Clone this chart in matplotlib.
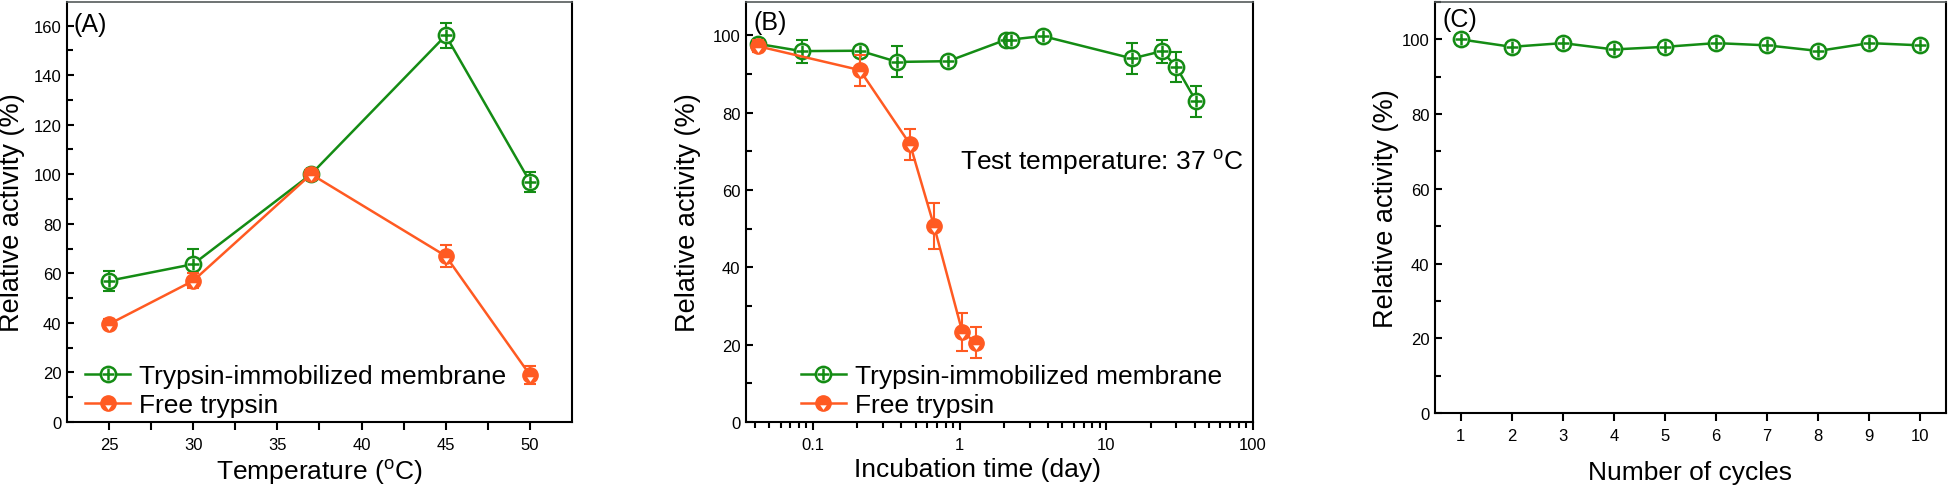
import matplotlib
matplotlib.use("Agg")
import matplotlib.pyplot as plt
from matplotlib.lines import Line2D
from matplotlib.path import Path
from matplotlib.ticker import MultipleLocator, FixedLocator, LogLocator, FuncFormatter, NullFormatter
import numpy as np

# ---------------- data ----------------
temp_c = [25, 30, 37, 45, 50]
a_membrane = [57, 63.7, 100, 156, 97]
a_membrane_err = [4, 6, 1, 5, 4]
a_free = [39.5, 57, 100, 67, 19]
a_free_err = [2, 3, 2, 4.5, 3.5]

b_membrane_days = [0.0417, 0.0833, 0.208, 0.375, 0.833, 2.08, 2.25, 3.67, 15, 24, 30, 41]
b_membrane = [97.8, 95.9, 96, 93.1, 93.3, 98.9, 98.9, 99.8, 94, 95.9, 91.8, 82.9]
b_membrane_err = [1, 3, 1, 4, 1, 1, 1, 1, 4, 3, 4, 4]
b_free_days = [0.0417, 0.208, 0.458, 0.667, 1.04, 1.29]
b_free = [97.2, 91, 71.8, 50.7, 23.3, 20.5]
b_free_err = [1.5, 4, 4, 6, 5, 4]

cycles = [1, 2, 3, 4, 5, 6, 7, 8, 9, 10]
c_membrane = [100, 98, 99, 97.3, 98, 99, 98.4, 96.9, 99, 98.4]

label_membrane = "Trypsin-immobilized membrane"
label_free = "Free trypsin"

# ---------------- style ----------------
GREEN = "#148c14"
ORANGE = "#ff5a22"
plt.rcParams["font.family"] = ["Liberation Sans", "DejaVu Sans"]
plt.rcParams["mathtext.fontset"] = "custom"
plt.rcParams["mathtext.rm"] = "Liberation Sans"

LW = 1.8
MS = 11
TRI = Path([(-2.3, -1.3), (2.3, -1.3), (0, -4.6), (-2.3, -1.3)],
           [Path.MOVETO, Path.LINETO, Path.LINETO, Path.CLOSEPOLY])
TICK_FS = 12
XLAB_FS = 19
YLAB_FS = 19.5
LEG_FS = 19
PANEL_FS = 18

fig = plt.figure(figsize=(19.49, 4.89), dpi=100)
axA = fig.add_axes([67/1949, 66/489, 505/1949, 420/489])
axB = fig.add_axes([746/1949, 66/489, 507/1949, 420/489])
axC = fig.add_axes([1435/1949, 75/489, 511/1949, 411/489])


def style_axes(ax):
    for s in ["left", "bottom", "right"]:
        ax.spines[s].set_linewidth(1.5)
        ax.spines[s].set_color("black")
    ax.spines["top"].set_linewidth(1.2)
    ax.spines["top"].set_color("#555b5b")
    ax.tick_params(axis="y", which="both", direction="in", width=1.5, labelsize=TICK_FS, pad=4)
    ax.tick_params(axis="y", which="major", length=5)
    ax.tick_params(axis="y", which="minor", length=4)
    ax.tick_params(axis="x", which="both", direction="out", width=1.5, labelsize=TICK_FS, pad=5)
    ax.tick_params(axis="x", which="major", length=6)
    ax.tick_params(axis="x", which="minor", length=6)
    ax.tick_params(which="both", right=False, top=False)


def plot_membrane(ax, x, y, err=None):
    if err is not None:
        ax.errorbar(x, y, yerr=err, fmt="none", ecolor=GREEN, elinewidth=1.5,
                    capsize=4, capthick=1.5, zorder=2)
    ax.plot(x, y, "-", color=GREEN, lw=LW, marker="o", ms=MS, mfc="white",
            mec=GREEN, mew=1.8, zorder=3)
    ax.plot(x, y, linestyle="none", marker="+", ms=9, mec=GREEN, mew=1.8, zorder=4)


def plot_free(ax, x, y, err=None):
    if err is not None:
        ax.errorbar(x, y, yerr=err, fmt="none", ecolor=ORANGE, elinewidth=1.5,
                    capsize=4, capthick=1.5, zorder=5)
    ax.plot(x, y, "-", color=ORANGE, lw=LW, marker="o", ms=MS, mfc=ORANGE,
            mec=ORANGE, mew=1.0, zorder=6)
    ax.plot(x, y, linestyle="none", marker=TRI, ms=9.2, mfc="white", mec="white",
            mew=0, zorder=7)


def legend_handles():
    g1 = Line2D([], [], color=GREEN, lw=LW, marker="o", ms=MS, mfc="white", mec=GREEN, mew=1.8)
    g2 = Line2D([], [], linestyle="none", marker="+", ms=9, mec=GREEN, mew=1.8)
    o1 = Line2D([], [], color=ORANGE, lw=LW, marker="o", ms=MS, mfc=ORANGE, mec=ORANGE)
    o2 = Line2D([], [], linestyle="none", marker=TRI, ms=9.2, mfc="white", mec="white", mew=0)
    return [(g1, g2), (o1, o2)]


def add_legend(ax, x, y):
    ax.legend(legend_handles(), [label_membrane, label_free], loc="lower left",
              bbox_to_anchor=(x, y), frameon=False, fontsize=LEG_FS, handlelength=1.7,
              handletextpad=0.35, labelspacing=0.17, borderpad=0, borderaxespad=0,
              numpoints=1)


# ---------------- panel A ----------------
style_axes(axA)
plot_membrane(axA, temp_c, a_membrane, a_membrane_err)
plot_free(axA, temp_c, a_free, a_free_err)
axA.set_xlim(22.5, 52.5)
axA.set_ylim(0, 169.5)
axA.xaxis.set_major_locator(FixedLocator([25, 30, 35, 40, 45, 50]))
axA.xaxis.set_minor_locator(FixedLocator([27.5, 32.5, 37.5, 42.5, 47.5]))
axA.yaxis.set_major_locator(MultipleLocator(20))
axA.yaxis.set_minor_locator(MultipleLocator(10))
axA.set_xlabel("Temperature ($\\mathregular{^o}$C)", fontsize=XLAB_FS)
axA.set_ylabel("Relative activity (%)", fontsize=YLAB_FS)
axA.yaxis.set_label_coords(-0.083, 0.5)
axA.xaxis.set_label_coords(0.5, -0.083)
axA.text(0.012, 0.948, "(A)", transform=axA.transAxes, fontsize=PANEL_FS, ha="left", va="center")
add_legend(axA, 0.036, 0.012)

# ---------------- panel B ----------------
style_axes(axB)
plot_membrane(axB, b_membrane_days, b_membrane, b_membrane_err)
plot_free(axB, b_free_days, b_free, b_free_err)
axB.set_xscale("log")
axB.set_xlim(0.0348, 100)
axB.set_ylim(0, 108.6)
axB.xaxis.set_major_locator(FixedLocator([0.1, 1, 10, 100]))
axB.xaxis.set_major_formatter(FuncFormatter(lambda v, p: f"{v:g}"))
axB.xaxis.set_minor_locator(LogLocator(base=10, subs=np.arange(2, 10), numticks=20))
axB.xaxis.set_minor_formatter(NullFormatter())
axB.tick_params(axis="x", which="minor", length=4)
axB.yaxis.set_major_locator(MultipleLocator(20))
axB.yaxis.set_minor_locator(MultipleLocator(10))
axB.set_xlabel("Incubation time (day)", fontsize=XLAB_FS)
axB.set_ylabel("Relative activity (%)", fontsize=YLAB_FS)
axB.yaxis.set_label_coords(-0.089, 0.5)
axB.xaxis.set_label_coords(0.457, -0.083)
axB.text(0.014, 0.952, "(B)", transform=axB.transAxes, fontsize=PANEL_FS, ha="left", va="center")
axB.text(0.422, 0.621, "Test temperature: 37 $\\mathregular{^o}$C", transform=axB.transAxes,
         fontsize=19, ha="left", va="center")
add_legend(axB, 0.108, 0.012)

# ---------------- panel C ----------------
style_axes(axC)
plot_membrane(axC, cycles, c_membrane)
axC.set_xlim(0.5, 10.5)
axC.set_ylim(0, 110)
axC.xaxis.set_major_locator(FixedLocator(cycles))
axC.yaxis.set_major_locator(MultipleLocator(20))
axC.yaxis.set_minor_locator(MultipleLocator(10))
axC.set_xlabel("Number of cycles", fontsize=XLAB_FS)
axC.set_ylabel("Relative activity (%)", fontsize=YLAB_FS)
axC.yaxis.set_label_coords(-0.070, 0.5)
axC.xaxis.set_label_coords(0.5, -0.115)
axC.text(0.014, 0.959, "(C)", transform=axC.transAxes, fontsize=PANEL_FS, ha="left", va="center")

fig.savefig("out.png", dpi=100)
